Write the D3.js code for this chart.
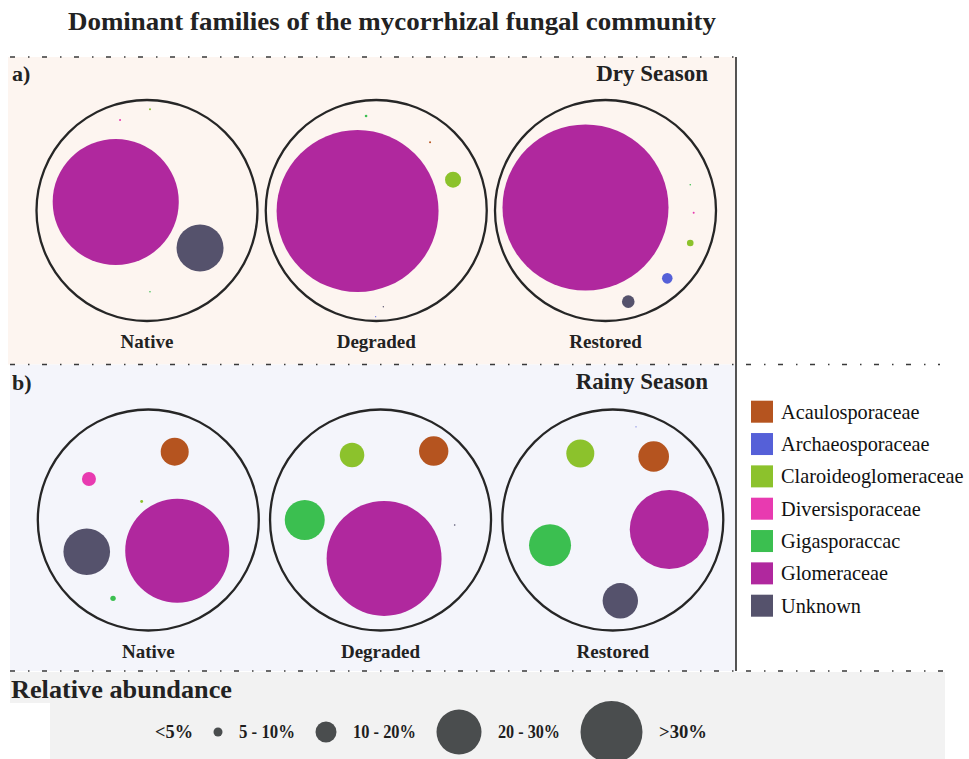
<!DOCTYPE html>
<html>
<head>
<meta charset="utf-8">
<script src="https://cdn.jsdelivr.net/npm/d3@7"></script>
<style>
  body { margin: 0; background: #ffffff; }
  svg { display: block; }
</style>
</head>
<body>
<script>
// ---- data -----------------------------------------------------------
const families = ["Acaulosporaceae", "Archaeosporaceae", "Claroideoglomeraceae",
                  "Diversisporaceae", "Gigasporaccac", "Glomeraceae", "Unknown"];
const familyColors = ["#b5541f", "#5560d8", "#8cc22c", "#e83ab0", "#3bbf50", "#b0289e", "#55526c"];

const sites = ["Native", "Degraded", "Restored"];
const seasons = ["Dry Season", "Rainy Season"];
const panelTags = ["a)", "b)"];

// relative abundance (%) of each family, in the order of `families`
const dryNative     = [0,     0,     0.022, 0.022, 0.014, 87.75, 12.20];
const dryDegraded   = [0.015, 0.005, 0.97,  0,     0.026, 98.98, 0.007];
const dryRestored   = [0,     0.40,  0.156, 0.014, 0.009, 98.85, 0.57];
const rainyNative   = [5.60,  0,     0.06,  1.40,  0.21,  77.23, 15.51];
const rainyDegraded = [5.30,  0,     3.71,  0,     9.82,  81.15, 0.016];
const rainyRestored = [8.53,  0.013, 7.14,  0,     16.07, 56.84, 11.41];

const abundance = [[dryNative, dryDegraded, dryRestored],
                   [rainyNative, rainyDegraded, rainyRestored]];

// abundance classes of the size key
const sizeClasses = ["<5%", "5 - 10%", "10 - 20%", "20 - 30%", ">30%"];
const sizeThresholds = [5, 10, 20, 30];

// ---- saved bubble-pack layout (unit-circle offsets per family) --------
const layoutDryNative     = [null, null, [0.027,-0.916], [-0.244,-0.819], [0.027,0.735], [-0.283,-0.077], [0.480,0.339]];
const layoutDryDegraded   = [[0.487,-0.617], [-0.005,0.961], [0.695,-0.279], null, [-0.092,-0.855], [-0.169,0.005], [0.064,0.871]];
const layoutDryRestored   = [null, [0.559,0.614], [0.767,0.294], [0.798,0.020], [0.767,-0.233], [-0.181,-0.027], [0.206,0.825]];
const layoutRainyNative   = [[0.239,-0.618], null, [-0.060,-0.168], [-0.537,-0.371], [-0.319,0.709], [0.262,0.278], [-0.557,0.287]];
const layoutRainyDegraded = [[0.481,-0.624], null, [-0.258,-0.588], null, [-0.686,0.000], [0.032,0.348], [0.671,0.045]];
const layoutRainyRestored = [[0.370,-0.575], [0.210,-0.843], [-0.294,-0.602], null, [-0.568,0.228], [0.511,0.086], [0.068,0.731]];
const layouts = [[layoutDryNative, layoutDryDegraded, layoutDryRestored],
                 [layoutRainyNative, layoutRainyDegraded, layoutRainyRestored]];
// radius a 100 % bubble would take inside each enclosing circle
const packRadius = [[67.3, 81.4, 83.5], [59.2, 63.8, 52.4]];

// ---- drawing --------------------------------------------------------
const W = 969, H = 759;
const serif = "'Liberation Serif', 'Times New Roman', serif";
const ink = "#222222";

const svg = d3.select("body").append("svg")
  .attr("width", W).attr("height", H)
  .attr("viewBox", [0, 0, W, H]);

// panel backgrounds
const panelTop = [57, 364.5];
const panelBottom = [364.5, 671];
const panelFill = ["#fdf5f0", "#f4f5fb"];
svg.selectAll("rect.panel").data(seasons).join("rect")
  .attr("class", "panel")
  .attr("x", (d, i) => i === 0 ? 8 : 10)
  .attr("y", (d, i) => panelTop[i])
  .attr("width", (d, i) => i === 0 ? 728 : 726)
  .attr("height", (d, i) => panelBottom[i] - panelTop[i])
  .attr("fill", (d, i) => panelFill[i]);

// size key background
svg.append("rect").attr("x", 10).attr("y", 672).attr("width", 935).attr("height", 31).attr("fill", "#f2f2f2");
svg.append("rect").attr("x", 50).attr("y", 672).attr("width", 895).attr("height", 87).attr("fill", "#f2f2f2");

// dash-dot separators and the vertical divider
const dash = "5,13,1.5,12.5";
[[10, 737, 57], [10, 940, 364.5], [10, 945, 671]].forEach(([x1, x2, y]) => {
  svg.append("line").attr("x1", x1).attr("x2", x2).attr("y1", y).attr("y2", y)
    .attr("stroke", "#3a3a3a").attr("stroke-width", 1.6).attr("stroke-dasharray", dash);
});
svg.append("line").attr("x1", 736).attr("x2", 736).attr("y1", 57).attr("y2", 671)
  .attr("stroke", "#2a2a2a").attr("stroke-width", 1.6);

// title
svg.append("text")
  .attr("x", 392).attr("y", 30)
  .attr("text-anchor", "middle")
  .attr("font-family", serif).attr("font-weight", "bold").attr("font-size", 25)
  .attr("textLength", 648).attr("lengthAdjust", "spacingAndGlyphs")
  .attr("fill", ink)
  .text("Dominant families of the mycorrhizal fungal community");

// site positions
const siteX = [d3.scalePoint().domain(sites).range([147, 605.5]),
               d3.scalePoint().domain(sites).range([148.3, 612.8])];
const seasonY = d3.scalePoint().domain(seasons).range([210.5, 520]);
const outerR = 110.5;
const color = d3.scaleOrdinal().domain(families).range(familyColors);

seasons.forEach((season, si) => {
  const g = svg.append("g");
  const cy = seasonY(season);

  g.append("text")
    .attr("x", 12).attr("y", si === 0 ? 81 : 390)
    .attr("font-family", serif).attr("font-weight", "bold").attr("font-size", 22)
    .attr("fill", ink).text(panelTags[si]);

  g.append("text")
    .attr("x", 708).attr("y", si === 0 ? 81 : 389)
    .attr("text-anchor", "end")
    .attr("font-family", serif).attr("font-weight", "bold").attr("font-size", 23)
    .attr("fill", ink).text(season);

  sites.forEach((site, ti) => {
    const cx = siteX[si](site);
    const x = d3.scaleLinear().domain([-1, 1]).range([cx - outerR, cx + outerR]);
    const y = d3.scaleLinear().domain([-1, 1]).range([cy - outerR, cy + outerR]);
    const r = d3.scaleSqrt().domain([0, 100]).range([0, packRadius[si][ti]]);

    g.append("circle")
      .attr("cx", cx).attr("cy", cy).attr("r", outerR)
      .attr("fill", "none").attr("stroke", "#262626").attr("stroke-width", 2.3);

    const nodes = families.map((f, k) => ({
      family: f, value: abundance[si][ti][k], pos: layouts[si][ti][k]
    })).filter(d => d.value > 0 && d.pos);

    g.selectAll(null).data(nodes).join("circle")
      .attr("cx", d => x(d.pos[0]))
      .attr("cy", d => y(d.pos[1]))
      .attr("r", d => r(d.value))
      .attr("fill", d => color(d.family));

    g.append("text")
      .attr("x", cx).attr("y", cy + 137.5)
      .attr("text-anchor", "middle")
      .attr("font-family", serif).attr("font-weight", "bold").attr("font-size", 19)
      .attr("fill", ink).text(site);
  });
});

// family legend
const legY = d3.scalePoint().domain(families).range([411.7, 605.7]);
const leg = svg.append("g");
leg.selectAll("rect").data(families).join("rect")
  .attr("x", 751).attr("y", d => legY(d) - 11)
  .attr("width", 22).attr("height", 22)
  .attr("fill", d => color(d));
leg.selectAll("text").data(families).join("text")
  .attr("x", 781).attr("y", d => legY(d) + 7)
  .attr("font-family", serif).attr("font-size", 20.3)
  .attr("fill", "#111").text(d => d);

// size key
svg.append("text")
  .attr("x", 11).attr("y", 698)
  .attr("font-family", serif).attr("font-weight", "bold").attr("font-size", 25)
  .attr("textLength", 221).attr("lengthAdjust", "spacingAndGlyphs")
  .attr("fill", ink).text("Relative abundance");

const keyR = d3.scaleOrdinal().domain(sizeThresholds).range([4.5, 10.5, 22.5, 31]);
const labelWidth = d3.scaleOrdinal().domain(sizeClasses).range([38, 56, 63, 62, 48]);
const keyY = 732;
let cursor = 155;
sizeClasses.forEach((lab, i) => {
  svg.append("text")
    .attr("x", cursor).attr("y", keyY + 6)
    .attr("font-family", serif).attr("font-weight", "bold").attr("font-size", 18)
    .attr("textLength", labelWidth(lab)).attr("lengthAdjust", "spacingAndGlyphs")
    .attr("fill", "#1e1e1e").text(lab);
  cursor += labelWidth(lab);
  if (i < sizeThresholds.length) {
    const rr = keyR(sizeThresholds[i]);
    cursor += 20.5;
    svg.append("circle")
      .attr("cx", cursor + rr).attr("cy", keyY).attr("r", rr)
      .attr("fill", "#4a4d4e");
    cursor += 2 * rr + 16.5;
  }
});
</script>
</body>
</html>
